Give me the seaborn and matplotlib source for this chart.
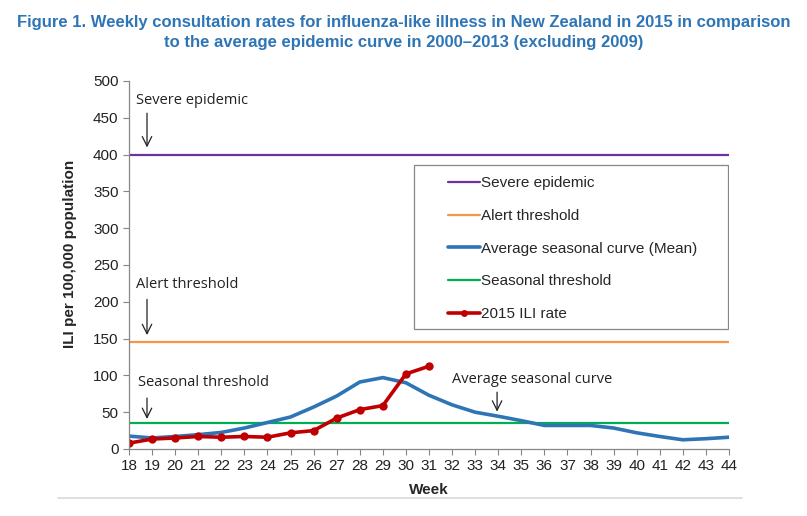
import numpy as np
import pandas as pd
import matplotlib
matplotlib.use("Agg")
import matplotlib.pyplot as plt
import seaborn as sns
from matplotlib.lines import Line2D
from matplotlib.patches import Rectangle

sns.set_style("white")
plt.rcParams['font.family'] = ['Liberation Sans', 'DejaVu Sans']

weeks = list(range(18, 45))
mean_curve = [17.5, 15, 17, 19.5, 22.5, 28.5, 36, 43.5, 57, 72, 91, 97, 90, 73, 60,
              50, 44.5, 38.5, 32, 32, 32, 28.5, 22, 17, 12.5, 14, 16]
weeks_2015 = list(range(18, 32))
ili_2015 = [8, 13.5, 15, 17, 16, 17, 16, 22, 25, 42, 53.5, 59, 102, 112.5]
severe_epidemic = 400
alert_threshold = 146
seasonal_threshold = 35

labels = ["Severe epidemic", "Alert threshold", "Average seasonal curve (Mean)",
          "Seasonal threshold", "2015 ILI rate"]

c_purple = "#7030A0"
c_orange = "#F79646"
c_blue = "#2E75B6"
c_green = "#00B050"
c_red = "#C00000"

mean_df = pd.DataFrame({"week": weeks, "ili": mean_curve})
df15 = pd.DataFrame({"week": weeks_2015, "ili": ili_2015})
thr_df = pd.DataFrame({
    "week": weeks * 3,
    "ili": [severe_epidemic] * len(weeks) + [alert_threshold] * len(weeks) + [seasonal_threshold] * len(weeks),
    "kind": ["severe"] * len(weeks) + ["alert"] * len(weeks) + ["seasonal"] * len(weeks),
})

fig = plt.figure(figsize=(8.07, 5.16), dpi=100)
ax = fig.add_axes([129 / 807, 1 - 449 / 516, 600 / 807, 368 / 516])

sns.lineplot(data=thr_df, x="week", y="ili", hue="kind",
             palette={"severe": c_purple, "alert": c_orange, "seasonal": c_green},
             linewidth=1.6, ax=ax, legend=False)
sns.lineplot(data=mean_df, x="week", y="ili", color=c_blue, linewidth=2.6, ax=ax)
sns.lineplot(data=df15, x="week", y="ili", color=c_red, linewidth=2.6,
             marker="o", markersize=6, markeredgewidth=0, ax=ax)

ax.set_xlim(18, 44)
ax.set_ylim(0, 500)
ax.set_xticks(weeks)
ax.set_yticks(range(0, 501, 50))
ax.tick_params(axis="both", labelsize=11, colors="#222222", length=4, direction="out",
               color="#868686", width=0.8, left=True, bottom=True)
for s in ["top", "right"]:
    ax.spines[s].set_visible(False)
for s in ["left", "bottom"]:
    ax.spines[s].set_color("#868686")
    ax.spines[s].set_linewidth(0.9)
ax.set_xlabel("Week", fontsize=11, fontweight="bold")
ax.set_ylabel("ILI per 100,000 population", fontsize=11, fontweight="bold")
ax.xaxis.set_label_coords(0.5, -(490 - 449) / 368)
ax.yaxis.set_label_coords((70 - 129) / 600, (449 - 254) / 368)
ax.xaxis.label.set_va("center")
ax.yaxis.label.set_va("center")

note_font = dict(fontsize=10.5, family=["Open Sans", "DejaVu Sans"], color="#222222")
arrow = dict(arrowstyle="->", color="#222222", lw=0.9, mutation_scale=17)
ax.text(18.3, 473, "Severe epidemic", va="center", ha="left", **note_font)
ax.annotate("", xy=(18.78, 406), xytext=(18.78, 460), arrowprops=arrow)
ax.text(18.3, 224, "Alert threshold", va="center", ha="left", **note_font)
ax.annotate("", xy=(18.78, 151), xytext=(18.78, 207), arrowprops=arrow)
ax.text(18.4, 90, "Seasonal threshold", va="center", ha="left", **note_font)
ax.annotate("", xy=(18.78, 37), xytext=(18.78, 73), arrowprops=arrow)
ax.text(32.0, 95, "Average seasonal curve", va="center", ha="left", **note_font)
ax.annotate("", xy=(33.95, 47), xytext=(33.95, 81), arrowprops=arrow)

# legend box
ax.add_patch(Rectangle((0.475, 0.326), 0.523, 0.446, transform=ax.transAxes,
                       fill=True, facecolor="white", edgecolor="#868686", lw=0.9, zorder=5))
handles = [
    Line2D([], [], color=c_purple, lw=1.6),
    Line2D([], [], color=c_orange, lw=1.6),
    Line2D([], [], color=c_blue, lw=2.6),
    Line2D([], [], color=c_green, lw=1.6),
    Line2D([], [], color=c_red, lw=2.6, marker="o", markersize=5, markeredgewidth=0),
]
leg = ax.legend(handles, labels, loc="upper left", bbox_to_anchor=(0.514, 0.77),
                frameon=False, fontsize=11, handlelength=2.1, handletextpad=0.05,
                labelspacing=1.22, borderpad=0.2)
leg.set_zorder(6)

title_font = dict(ha="center", va="center", fontsize=12, fontweight="bold", color="#2E75B6",
                  family=["Liberation Sans", "DejaVu Sans"])
fig.text(0.5, 1 - 22 / 516, "Figure 1. Weekly consultation rates for influenza-like illness in New Zealand in 2015 in comparison",
         **title_font)
fig.text(0.5, 1 - 42 / 516, "to the average epidemic curve in 2000\u20132013 (excluding 2009)",
         **title_font)

fig.add_artist(Line2D([58 / 807, 742 / 807], [1 - 498 / 516, 1 - 498 / 516],
                      color="#d9d9d9", lw=1.2))

fig.savefig("out.png", dpi=100)
plt.close()
